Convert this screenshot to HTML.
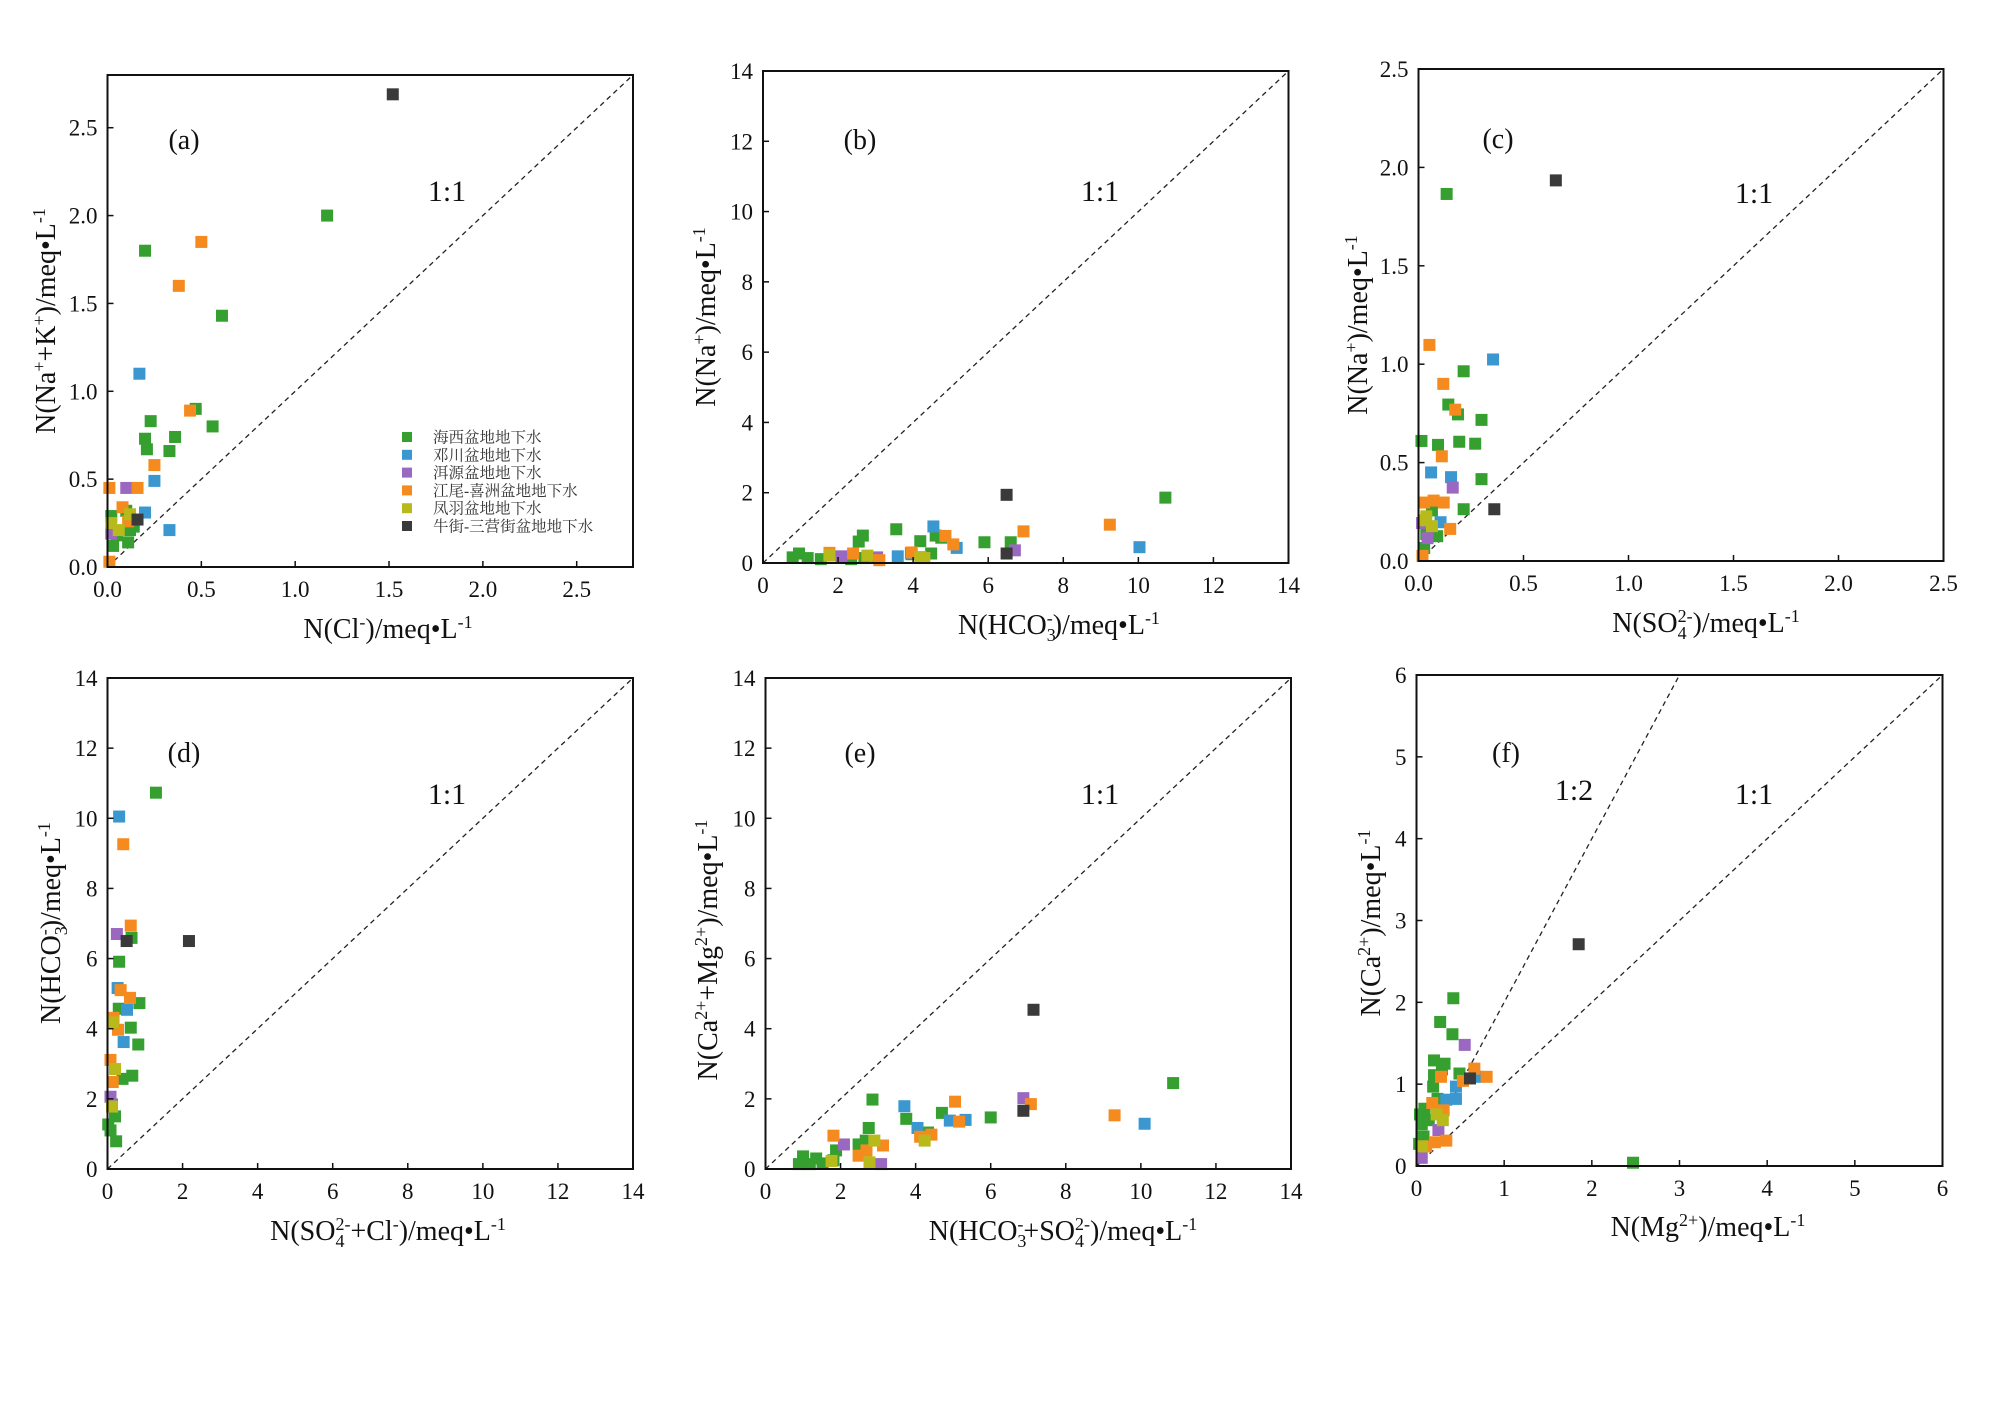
<!DOCTYPE html>
<html><head><meta charset="utf-8"><style>
html,body{margin:0;padding:0;background:#fff;}
svg{display:block;}
text{font-family:"Liberation Serif","Noto Serif CJK SC",serif;fill:#111;}
.tick{font-size:23px;}
.title{font-size:28px;}
.plab{font-size:28px;}
.ratio{font-size:30px;}
.leg{font-size:15.5px;font-family:"Liberation Serif","Noto Serif CJK SC",serif;fill:#333;}
</style></head><body>
<svg id="chart" width="2000" height="1428" viewBox="0 0 2000 1428" xmlns="http://www.w3.org/2000/svg">
<rect width="2000" height="1428" fill="#fff"/>
<text class="title" x="388" y="638" text-anchor="middle">N(Cl<tspan dy="-10" font-size="18">-</tspan><tspan dy="10">)/meq•L</tspan><tspan dy="-10" font-size="18">-1</tspan></text>
<text class="title" transform="translate(55,321) rotate(-90)" text-anchor="middle">N(Na<tspan dy="-10" font-size="18">+</tspan><tspan dy="10">+K</tspan><tspan dy="-10" font-size="18">+</tspan><tspan dy="10">)/meq•L</tspan><tspan dy="-10" font-size="18">-1</tspan></text>
<text class="title" x="1059" y="634" text-anchor="middle">N(HCO<tspan dy="7" font-size="18">3</tspan><tspan dy="-17" dx="-9" font-size="18">-</tspan><tspan dy="10">)/meq•L</tspan><tspan dy="-10" font-size="18">-1</tspan></text>
<text class="title" transform="translate(715,317) rotate(-90)" text-anchor="middle">N(Na<tspan dy="-10" font-size="18">+</tspan><tspan dy="10">)/meq•L</tspan><tspan dy="-10" font-size="18">-1</tspan></text>
<text class="title" x="1706" y="632" text-anchor="middle">N(SO<tspan dy="7" font-size="18">4</tspan><tspan dy="-17" dx="-9" font-size="18">2-</tspan><tspan dy="10">)/meq•L</tspan><tspan dy="-10" font-size="18">-1</tspan></text>
<text class="title" transform="translate(1367,325) rotate(-90)" text-anchor="middle">N(Na<tspan dy="-10" font-size="18">+</tspan><tspan dy="10">)/meq•L</tspan><tspan dy="-10" font-size="18">-1</tspan></text>
<text class="title" x="388" y="1240" text-anchor="middle">N(SO<tspan dy="7" font-size="18">4</tspan><tspan dy="-17" dx="-9" font-size="18">2-</tspan><tspan dy="10">+Cl</tspan><tspan dy="-10" font-size="18">-</tspan><tspan dy="10">)/meq•L</tspan><tspan dy="-10" font-size="18">-1</tspan></text>
<text class="title" transform="translate(60,923) rotate(-90)" text-anchor="middle">N(HCO<tspan dy="7" font-size="18">3</tspan><tspan dy="-17" dx="-9" font-size="18">-</tspan><tspan dy="10">)/meq•L</tspan><tspan dy="-10" font-size="18">-1</tspan></text>
<text class="title" x="1063" y="1240" text-anchor="middle">N(HCO<tspan dy="7" font-size="18">3</tspan><tspan dy="-17" dx="-9" font-size="18">-</tspan><tspan dy="10">+SO</tspan><tspan dy="7" font-size="18">4</tspan><tspan dy="-17" dx="-9" font-size="18">2-</tspan><tspan dy="10">)/meq•L</tspan><tspan dy="-10" font-size="18">-1</tspan></text>
<text class="title" transform="translate(717,950) rotate(-90)" text-anchor="middle">N(Ca<tspan dy="-10" font-size="18">2+</tspan><tspan dy="10">+Mg</tspan><tspan dy="-10" font-size="18">2+</tspan><tspan dy="10">)/meq•L</tspan><tspan dy="-10" font-size="18">-1</tspan></text>
<text class="title" x="1708" y="1236" text-anchor="middle">N(Mg<tspan dy="-10" font-size="18">2+</tspan><tspan dy="10">)/meq•L</tspan><tspan dy="-10" font-size="18">-1</tspan></text>
<text class="title" transform="translate(1380,923) rotate(-90)" text-anchor="middle">N(Ca<tspan dy="-10" font-size="18">2+</tspan><tspan dy="10">)/meq•L</tspan><tspan dy="-10" font-size="18">-1</tspan></text>
<text class="plab" x="184" y="149" text-anchor="middle">(a)</text>
<text class="plab" x="860" y="149" text-anchor="middle">(b)</text>
<text class="plab" x="1498" y="148" text-anchor="middle">(c)</text>
<text class="plab" x="184" y="762" text-anchor="middle">(d)</text>
<text class="plab" x="860" y="762" text-anchor="middle">(e)</text>
<text class="plab" x="1506" y="762" text-anchor="middle">(f)</text>
<text class="ratio" x="447" y="201" text-anchor="middle">1:1</text>
<text class="ratio" x="1100" y="201" text-anchor="middle">1:1</text>
<text class="ratio" x="1754" y="203" text-anchor="middle">1:1</text>
<text class="ratio" x="447" y="804" text-anchor="middle">1:1</text>
<text class="ratio" x="1100" y="804" text-anchor="middle">1:1</text>
<text class="ratio" x="1574" y="800" text-anchor="middle">1:2</text>
<text class="ratio" x="1754" y="804" text-anchor="middle">1:1</text>
<g id="legend"></g>
</svg>
<script>
const seriesNames = ["海西盆地地下水","邓川盆地地下水","洱源盆地地下水","江尾-喜洲盆地地下水","凤羽盆地地下水","牛街-三营街盆地地下水"];
const seriesColors = ["#35a030","#3a97d0","#9a68c0","#f58b1f","#b8ba1c","#3a3a3a"];
const seriesKeys = ["haixi","dengchuan","eryuan","jiangwei","fengyu","niujie"];

const aTicks = [0,0.5,1.0,1.5,2.0,2.5];
const aX = [[0.2,1.17,0.61,0.47,0.56,0.23,0.2,0.36,0.21,0.33,0.02,0.1,0.12,0.11,0.03,0.05,0.14],
 [0.17,0.25,0.2,0.33],[0.1,0.02],[0.5,0.38,0.44,0.25,0.16,0.01,0.08,0.11,0.01],[0.06,0.02,0.12],[1.52,0.16]];
const aY = [[1.8,2.0,1.43,0.9,0.8,0.83,0.73,0.74,0.67,0.66,0.29,0.32,0.21,0.14,0.12,0.18,0.23],
 [1.1,0.49,0.31,0.21],[0.45,0.19],[1.85,1.6,0.89,0.58,0.45,0.45,0.34,0.26,0.03],[0.21,0.25,0.3],[2.69,0.27]];
const bTicks = [0,2,4,6,8,10,12,14];
const bX = [[10.72,3.55,5.9,6.6,4.19,4.6,4.75,2.66,2.55,4.48,0.96,0.79,1.19,1.54,2.35,2.7,3.96],
 [10.03,4.54,5.16,3.59,3.94],[6.71,2.09,3.04],[9.24,6.94,4.86,5.07,2.4,3.96,1.77,3.1],[1.77,2.78,4.19,4.3],[6.49,6.49]];
const bY = [[1.86,0.96,0.59,0.59,0.62,0.78,0.72,0.78,0.61,0.27,0.27,0.16,0.14,0.11,0.11,0.14,0.25],
 [0.45,1.04,0.43,0.19,0.28],[0.36,0.19,0.16],[1.09,0.9,0.77,0.53,0.27,0.3,0.29,0.08],[0.21,0.21,0.17,0.14],[1.94,0.27]];
const cTicks = [0,0.5,1.0,1.5,2.0,2.5];
const cX = [[0.134,0.215,0.142,0.188,0.3,0.014,0.093,0.194,0.27,0.3,0.215,0.064,0.037,0.089,0.027],
 [0.355,0.06,0.155,0.105],[0.163,0.043,0.017],[0.052,0.118,0.175,0.111,0.027,0.072,0.12,0.151,0.019],[0.037,0.064,0.027],[0.654,0.361]];
const cY = [[1.865,0.964,0.795,0.745,0.717,0.61,0.59,0.606,0.596,0.416,0.263,0.257,0.137,0.126,0.066],
 [1.024,0.45,0.426,0.197],[0.373,0.116,0.193],[1.098,0.9,0.769,0.532,0.297,0.307,0.297,0.163,0.026],[0.227,0.177,0.207],[1.934,0.263]];
const dTicks = [0,2,4,6,8,10,12,14];
const dX = [[1.29,0.31,0.64,0.85,0.3,0.62,0.82,0.66,0.4,0.2,0.12,0.08,0.23,0.02],
 [0.31,0.27,0.52,0.43],[0.25,0.08],[0.42,0.62,0.35,0.6,0.28,0.16,0.08,0.14],[0.12,0.2,0.14],[2.17,0.51]];
const dY = [[10.73,5.91,6.59,4.73,4.57,4.03,3.55,2.66,2.57,1.5,1.84,1.1,0.79,1.27],
 [10.05,5.16,4.54,3.62],[6.7,2.06],[9.26,6.94,5.1,4.88,3.97,4.31,3.11,2.48],[1.78,2.85,4.18],[6.5,6.5]];
const eTicks = [0,2,4,6,8,10,12,14];
const eX = [[10.86,2.85,3.75,4.7,6.0,2.75,2.48,2.67,4.33,1.88,1.35,1.0,0.89,1.18,1.52,1.81],
 [3.7,4.05,4.91,5.33,10.1],[6.87,2.09,3.08],[5.05,5.16,7.07,9.3,1.81,4.42,4.12,2.48,2.69,3.13],[1.76,2.9,4.24,2.77],[7.14,6.87]];
const eY = [[2.45,1.98,1.43,1.6,1.47,1.17,0.7,0.81,1.04,0.53,0.3,0.36,0.14,0.14,0.16,0.25],
 [1.79,1.17,1.38,1.4,1.29],[2.02,0.7,0.14],[1.92,1.35,1.85,1.53,0.95,0.98,0.92,0.38,0.53,0.67],[0.23,0.81,0.81,0.19],[4.54,1.66]];
const fTicks = [0,1,2,3,4,5,6];
const fX = [[2.47,0.42,0.27,0.41,0.2,0.32,0.29,0.49,0.2,0.19,0.24,0.09,0.06,0.14,0.08,0.03,0.04],
 [0.45,0.45,0.34,0.68],[0.55,0.25,0.06],[0.28,0.66,0.8,0.53,0.18,0.31,0.34,0.21,0.11],[0.3,0.23,0.06],[1.85,0.61]];
const fY = [[0.04,2.05,1.76,1.61,1.29,1.25,1.18,1.13,1.11,0.97,0.82,0.7,0.51,0.56,0.36,0.27,0.63],
 [0.97,0.82,0.81,1.09],[1.48,0.44,0.1],[1.09,1.19,1.09,1.04,0.77,0.68,0.31,0.29,0.24],[0.56,0.63,0.24],[2.71,1.07]];

const panels = [
 {id:"a",L:107.5,R:633,T:75,B:567,max:2.8,ticks:aTicks,xs:aX,ys:aY,dec:1,lines:[1]},
 {id:"b",L:763,R:1288.5,T:71,B:563,max:14,ticks:bTicks,xs:bX,ys:bY,dec:0,lines:[1]},
 {id:"c",L:1418.5,R:1943.5,T:69,B:561,max:2.5,ticks:cTicks,xs:cX,ys:cY,dec:1,lines:[1]},
 {id:"d",L:107.5,R:633,T:678,B:1169,max:14,ticks:dTicks,xs:dX,ys:dY,dec:0,lines:[1]},
 {id:"e",L:765.5,R:1291,T:678,B:1169,max:14,ticks:eTicks,xs:eX,ys:eY,dec:0,lines:[1]},
 {id:"f",L:1416.5,R:1942.5,T:675,B:1166,max:6,ticks:fTicks,xs:fX,ys:fY,dec:0,lines:[1,2]}
];
const NS="http://www.w3.org/2000/svg";
const svg=document.getElementById("chart");
function mk(tag,attrs,parent){const e=document.createElementNS(NS,tag);for(const k in attrs)e.setAttribute(k,attrs[k]);parent.appendChild(e);return e;}

panels.forEach(p=>{
  const g=mk("g",{},svg);
  
  
  const sx=v=>p.L+(v/p.max)*(p.R-p.L);
  const sy=v=>p.B-(v/p.max)*(p.B-p.T);
  p.lines.forEach(k=>{
    const xe=Math.min(p.max,p.max/k);
    const ln=mk("line",{x1:sx(0),y1:sy(0),x2:sx(xe),y2:sy(xe*k),stroke:"#222","stroke-width":1.3,"stroke-dasharray":"5,4"},g);
    
    
  });
  p.xs.forEach((arr,si)=>{
    const sg=mk("g",{fill:seriesColors[si]},g);
    
    
    arr.forEach((xv,i)=>{
      const r=mk("rect",{x:sx(xv)-6,y:sy(p.ys[si][i])-6,width:12,height:12},sg);
      
      
    });
  });
  const fr=mk("rect",{x:p.L,y:p.T,width:p.R-p.L,height:p.B-p.T,fill:"none",stroke:"#111","stroke-width":2},g);
  
  
  p.ticks.forEach(t=>{
    const lab=p.dec?t.toFixed(1):String(t);
    mk("line",{x1:sx(t),y1:p.B,x2:sx(t),y2:p.B-6,stroke:"#111","stroke-width":1.5},g);
    mk("line",{x1:p.L,y1:sy(t),x2:p.L+6,y2:sy(t),stroke:"#111","stroke-width":1.5},g);
    const tx=mk("text",{class:"tick",x:sx(t),y:p.B+30,"text-anchor":"middle"},g);
    tx.textContent=lab;
    
    
    const ty=mk("text",{class:"tick",x:p.L-10,y:sy(t)+8,"text-anchor":"end"},g);
    ty.textContent=lab;
    
    
  });
});

const lg=document.getElementById("legend");
svg.appendChild(lg);
seriesNames.forEach((n,i)=>{
  const y=437+i*17.8;
  const r=mk("rect",{x:402,y:y-5,width:10,height:10,fill:seriesColors[i]},lg);
  
  
  const t=mk("text",{class:"leg",x:433,y:y+5.5},lg);
  t.textContent=n;
  
  
});
</script>
</body></html>
